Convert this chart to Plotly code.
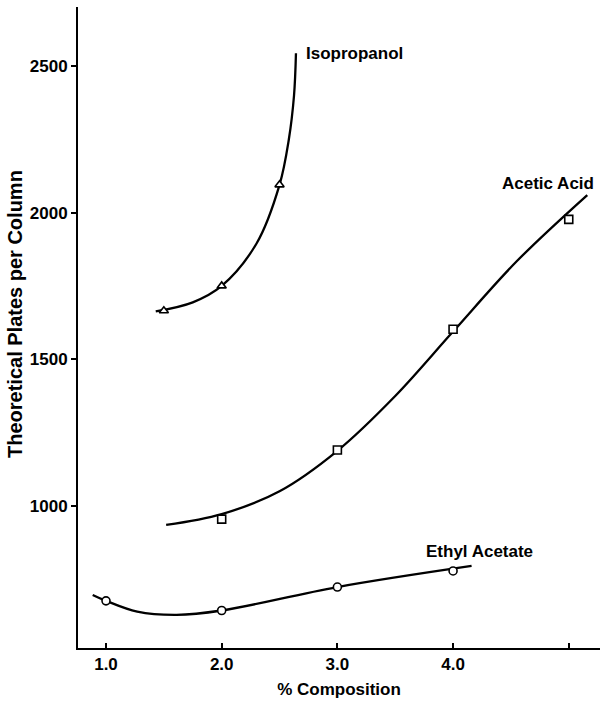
import plotly.graph_objects as go

# ---- data ----
# measured points
iso_x = [1.5, 2.0, 2.5]
iso_y = [1666, 1751, 2096]
acetic_x = [2.0, 3.0, 4.0, 5.0]
acetic_y = [955, 1191, 1603, 1978]
ethyl_x = [1.0, 2.0, 3.0, 4.0]
ethyl_y = [676, 643, 723, 778]

# hand-drawn fitted curves (knots)
iso_curve_x = [1.43, 1.75, 2.0, 2.3, 2.5, 2.58, 2.625, 2.642]
iso_curve_y = [1664, 1695, 1751, 1895, 2096, 2250, 2400, 2545]
acetic_curve_x = [1.52, 2.0, 2.5, 3.0, 3.5, 4.0, 4.55, 5.16]
acetic_curve_y = [935, 972, 1050, 1188, 1375, 1595, 1835, 2061]
ethyl_curve_x = [0.885, 1.0, 1.27, 1.61, 2.0, 3.0, 4.16]
ethyl_curve_y = [696, 676, 639, 628, 643, 723, 795]

y_ticks = [1000, 1500, 2000, 2500]
x_ticks = [1, 2, 3, 4, 5]
x_tick_text = ["1.0", "2.0", "3.0", "4.0", ""]

labels = ["Isopropanol", "Acetic Acid", "Ethyl Acetate"]
label_x = [2.711, 4.405, 3.748]
label_y = [2543, 2099, 843]

FONT = "Liberation Sans, Arial, Helvetica, sans-serif"

fig = go.Figure()

for cx, cy in [(iso_curve_x, iso_curve_y), (acetic_curve_x, acetic_curve_y),
               (ethyl_curve_x, ethyl_curve_y)]:
    fig.add_trace(go.Scatter(x=cx, y=cy, mode="lines",
                             line=dict(color="black", width=2.3, shape="spline", smoothing=1.0),
                             hoverinfo="skip", showlegend=False))

for px, py, sym in [(iso_x, iso_y, "triangle-up"), (acetic_x, acetic_y, "square"),
                    (ethyl_x, ethyl_y, "circle")]:
    fig.add_trace(go.Scatter(x=px, y=py, mode="markers",
                             marker=dict(symbol=sym, size=8, color="white",
                                         line=dict(color="black", width=1.6)),
                             showlegend=False))

for t, lx, ly in zip(labels, label_x, label_y):
    fig.add_annotation(x=lx, y=ly, text=t, showarrow=False, xanchor="left", yanchor="middle",
                       font=dict(family=FONT, size=17, color="black", weight="bold"))

# y-axis title placed to match the reference position
fig.add_annotation(x=-63 / 522, xref="paper", xanchor="center",
                   y=(705 - 57 - 314) / 641, yref="paper", yanchor="middle",
                   text="Theoretical Plates per Column", showarrow=False, textangle=-90,
                   font=dict(family=FONT, size=20, color="black", weight="bold"))

fig.update_layout(
    width=602, height=705,
    margin=dict(l=78, r=2, t=7, b=57),
    paper_bgcolor="white", plot_bgcolor="white",
    showlegend=False,
    font=dict(family=FONT, color="black", weight="bold"),
)

fig.update_xaxes(
    range=[0.758, 5.27], tickvals=x_ticks, ticktext=x_tick_text,
    ticks="inside", ticklen=5, tickwidth=2, tickcolor="black",
    showline=True, linecolor="black", linewidth=2, showgrid=False, zeroline=False,
    tickfont=dict(family=FONT, size=17, color="black", weight="bold"),
    title=dict(text="% Composition", standoff=10,
               font=dict(family=FONT, size=17, color="black", weight="bold")),
)
fig.update_yaxes(
    range=[515, 2703], tickvals=y_ticks,
    ticks="outside", ticklen=5, tickwidth=2, tickcolor="black",
    showline=True, linecolor="black", linewidth=2, showgrid=False, zeroline=False,
    tickfont=dict(family=FONT, size=17, color="black", weight="bold"),
)

fig.write_html("out.html")
